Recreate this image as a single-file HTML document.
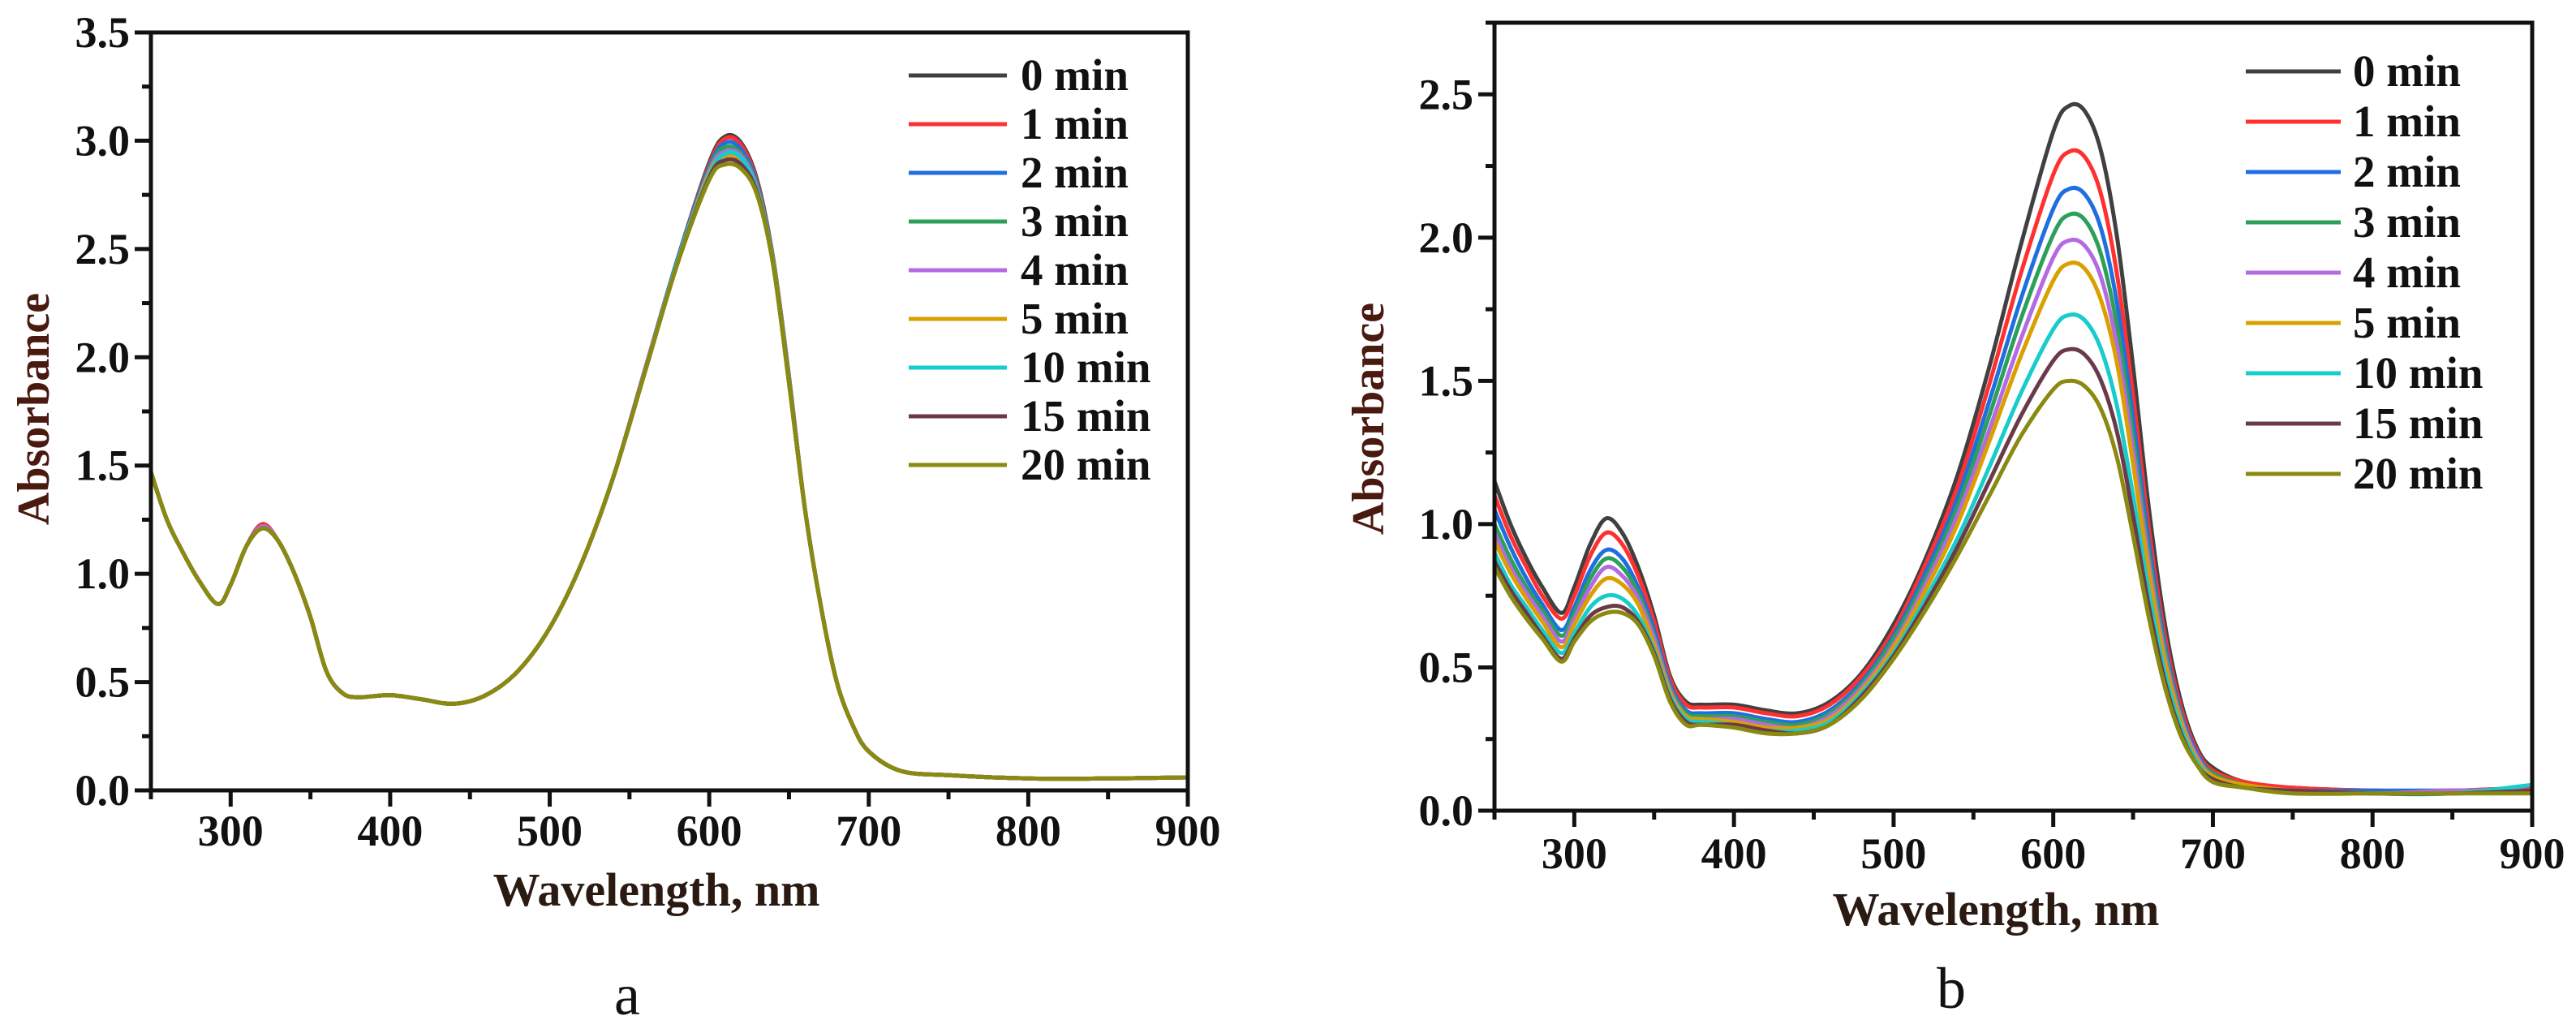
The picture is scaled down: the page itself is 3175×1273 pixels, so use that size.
<!DOCTYPE html>
<html><head><meta charset="utf-8"><style>
html,body{margin:0;padding:0;background:#fff;}
svg{display:block;}
text{font-family:"Liberation Serif",serif;}
</style></head><body>
<svg id="svg" width="3175" height="1273" viewBox="0 0 3175 1273" xmlns="http://www.w3.org/2000/svg"></svg>
<script>
const W = [250,260,270,280,292,300,310,320,330,340,350,360,370,380,400,420,440,460,480,500,520,540,560,580,600,610,620,630,640,650,660,670,680,690,700,720,750,800,850,900];
const seriesLabels = ["0 min","1 min","2 min","3 min","4 min","5 min","10 min","15 min","20 min"];
const seriesColors = ["#404040","#ff3030","#1f6fe0","#2ca05a","#b36ae2","#d9a000","#18cccc","#6b3a4a","#8a8a10"];
const xTicks = [300,400,500,600,700,800,900];
const yTicksA = [0,0.5,1.0,1.5,2.0,2.5,3.0,3.5];
const yTicksB = [0,0.5,1.0,1.5,2.0,2.5];
const A0 = [1.47,1.25,1.1,0.97,0.86,0.95,1.13,1.23,1.15,1.0,0.8,0.55,0.45,0.43,0.44,0.42,0.40,0.44,0.55,0.75,1.05,1.45,1.95,2.45,2.90,3.02,2.99,2.82,2.46,1.91,1.3,0.85,0.5,0.3,0.18,0.09,0.07,0.055,0.055,0.06];
const A1 = [1.47,1.25,1.1,0.97,0.86,0.95,1.13,1.23,1.15,1.0,0.8,0.55,0.45,0.43,0.44,0.42,0.40,0.44,0.55,0.75,1.05,1.45,1.95,2.45,2.89,3.01,2.98,2.81,2.46,1.91,1.3,0.85,0.5,0.3,0.18,0.09,0.07,0.055,0.055,0.06];
const A2 = [1.47,1.25,1.1,0.97,0.86,0.95,1.13,1.22,1.15,1.0,0.8,0.55,0.45,0.43,0.44,0.42,0.40,0.44,0.55,0.75,1.05,1.45,1.95,2.45,2.88,2.99,2.96,2.80,2.45,1.90,1.3,0.85,0.5,0.3,0.18,0.09,0.07,0.055,0.055,0.06];
const A3 = [1.47,1.25,1.1,0.97,0.86,0.95,1.13,1.22,1.15,1.0,0.8,0.55,0.45,0.43,0.44,0.42,0.40,0.44,0.55,0.75,1.05,1.45,1.95,2.44,2.87,2.97,2.94,2.79,2.45,1.90,1.3,0.85,0.5,0.3,0.18,0.09,0.07,0.055,0.055,0.06];
const A4 = [1.47,1.25,1.1,0.97,0.86,0.95,1.13,1.22,1.15,1.0,0.8,0.55,0.45,0.43,0.44,0.42,0.40,0.44,0.55,0.75,1.05,1.45,1.95,2.44,2.86,2.95,2.93,2.78,2.44,1.89,1.3,0.85,0.5,0.3,0.18,0.09,0.07,0.055,0.055,0.06];
const A5 = [1.47,1.25,1.1,0.97,0.86,0.95,1.13,1.21,1.15,1.0,0.8,0.55,0.45,0.43,0.44,0.42,0.40,0.44,0.55,0.75,1.05,1.45,1.94,2.44,2.85,2.93,2.91,2.77,2.44,1.89,1.3,0.85,0.5,0.3,0.18,0.09,0.07,0.055,0.055,0.06];
const A10 = [1.47,1.25,1.1,0.97,0.86,0.95,1.13,1.21,1.15,1.0,0.8,0.55,0.45,0.43,0.44,0.42,0.40,0.44,0.55,0.75,1.05,1.45,1.94,2.44,2.84,2.94,2.92,2.77,2.44,1.89,1.3,0.85,0.5,0.3,0.18,0.09,0.07,0.055,0.055,0.06];
const A15 = [1.47,1.25,1.1,0.97,0.86,0.95,1.13,1.21,1.15,1.0,0.8,0.55,0.45,0.43,0.44,0.42,0.40,0.44,0.55,0.75,1.05,1.45,1.94,2.43,2.83,2.91,2.89,2.76,2.43,1.88,1.3,0.85,0.5,0.3,0.18,0.09,0.07,0.055,0.055,0.06];
const A20 = [1.47,1.25,1.1,0.97,0.86,0.95,1.13,1.21,1.15,1.0,0.8,0.55,0.45,0.43,0.44,0.42,0.40,0.44,0.55,0.75,1.05,1.45,1.94,2.43,2.82,2.89,2.87,2.75,2.43,1.88,1.3,0.85,0.5,0.3,0.18,0.09,0.07,0.055,0.055,0.06];
const B0 = [1.15,1.00,0.88,0.78,0.69,0.78,0.93,1.02,0.97,0.85,0.68,0.47,0.38,0.37,0.37,0.35,0.34,0.38,0.48,0.65,0.88,1.17,1.55,1.98,2.37,2.46,2.44,2.30,2.00,1.55,1.05,0.65,0.38,0.22,0.15,0.10,0.08,0.07,0.07,0.08];
const B1 = [1.10,0.96,0.85,0.75,0.67,0.75,0.89,0.97,0.93,0.82,0.66,0.46,0.37,0.36,0.36,0.34,0.33,0.37,0.47,0.63,0.86,1.13,1.49,1.88,2.22,2.30,2.28,2.15,1.87,1.45,0.98,0.61,0.36,0.21,0.14,0.10,0.08,0.07,0.07,0.08];
const B2 = [1.05,0.92,0.81,0.72,0.63,0.71,0.84,0.91,0.88,0.78,0.63,0.44,0.35,0.34,0.34,0.32,0.31,0.35,0.45,0.61,0.83,1.09,1.43,1.79,2.10,2.17,2.15,2.03,1.77,1.37,0.93,0.58,0.34,0.20,0.13,0.09,0.07,0.07,0.07,0.07];
const B3 = [1.00,0.88,0.78,0.70,0.61,0.69,0.81,0.88,0.85,0.76,0.61,0.43,0.34,0.33,0.33,0.31,0.30,0.34,0.44,0.60,0.81,1.06,1.38,1.72,2.01,2.08,2.06,1.94,1.69,1.31,0.89,0.56,0.33,0.19,0.13,0.09,0.07,0.06,0.07,0.07];
const B4 = [0.97,0.85,0.76,0.68,0.59,0.67,0.78,0.85,0.82,0.74,0.60,0.42,0.33,0.32,0.32,0.30,0.29,0.33,0.43,0.58,0.79,1.03,1.33,1.65,1.93,1.99,1.97,1.86,1.62,1.26,0.86,0.54,0.32,0.19,0.12,0.09,0.07,0.06,0.07,0.07];
const B5 = [0.94,0.83,0.74,0.66,0.57,0.65,0.75,0.81,0.79,0.72,0.58,0.41,0.33,0.32,0.31,0.29,0.29,0.32,0.42,0.57,0.77,1.00,1.29,1.59,1.85,1.91,1.89,1.78,1.56,1.21,0.83,0.52,0.31,0.18,0.12,0.09,0.07,0.06,0.06,0.07];
const B10 = [0.90,0.79,0.71,0.63,0.55,0.62,0.71,0.75,0.74,0.68,0.56,0.40,0.32,0.31,0.30,0.28,0.28,0.31,0.41,0.55,0.74,0.95,1.20,1.46,1.68,1.73,1.71,1.61,1.41,1.10,0.76,0.48,0.29,0.17,0.11,0.08,0.07,0.06,0.06,0.09];
const B15 = [0.87,0.77,0.69,0.61,0.53,0.60,0.68,0.71,0.71,0.66,0.55,0.39,0.31,0.30,0.30,0.28,0.27,0.30,0.40,0.54,0.72,0.92,1.15,1.38,1.57,1.61,1.59,1.50,1.32,1.03,0.71,0.45,0.27,0.16,0.11,0.08,0.07,0.06,0.06,0.07];
const B20 = [0.85,0.75,0.67,0.60,0.52,0.59,0.66,0.69,0.69,0.65,0.54,0.38,0.30,0.30,0.29,0.27,0.27,0.30,0.39,0.53,0.70,0.89,1.10,1.31,1.47,1.50,1.48,1.40,1.23,0.96,0.67,0.43,0.26,0.16,0.10,0.08,0.06,0.06,0.06,0.06];

const NS="http://www.w3.org/2000/svg";
const svg=document.getElementById('svg');
function mk(tag,attrs,parent){const e=document.createElementNS(NS,tag);for(const k in attrs)e.setAttribute(k,attrs[k]);(parent||svg).appendChild(e);return e;}
function smooth(pts){let d=`M${pts[0][0]},${pts[0][1]}`;for(let i=0;i<pts.length-1;i++){const p0=pts[Math.max(0,i-1)],p1=pts[i],p2=pts[i+1],p3=pts[Math.min(pts.length-1,i+2)];const c1x=p1[0]+(p2[0]-p0[0])/6,c1y=p1[1]+(p2[1]-p0[1])/6,c2x=p2[0]-(p3[0]-p1[0])/6,c2y=p2[1]-(p3[1]-p1[1])/6;d+=` C${c1x.toFixed(1)},${c1y.toFixed(1)} ${c2x.toFixed(1)},${c2y.toFixed(1)} ${p2[0].toFixed(1)},${p2[1].toFixed(1)}`;}return d;}

function panel(cfg){
  const g=mk('g',{});
  
  
  const L=cfg.L,R=cfg.R,T=cfg.T,B=cfg.B;
  const xs=v=>L+(v-250)/(900-250)*(R-L);
  const ys=v=>B-v/cfg.ymax*(B-T);
  const sg=mk('g',{},g);
  
  
  cfg.data.forEach((arr,i)=>{
    const pts=W.map((w,j)=>[xs(w),ys(arr[j])]);
    const p=mk('path',{d:smooth(pts),fill:'none',stroke:seriesColors[i],'stroke-width':5,'stroke-linejoin':'round'},sg);
    
    
  });
  const fr=mk('rect',{x:L,y:T,width:R-L,height:B-T,fill:'none',stroke:'#111','stroke-width':5},g);
  
  
  for(let v=250;v<=900;v+=50){const major=v%100===0;mk('line',{x1:xs(v),x2:xs(v),y1:B,y2:B+(major?20:11),stroke:'#111','stroke-width':5},g);}
  xTicks.forEach(v=>{const t=mk('text',{x:xs(v),y:cfg.xlabY,'font-size':54,'font-weight':'bold','text-anchor':'middle',fill:'#111'},g);t.textContent=v;});
  for(let v=0;v<=cfg.ymax+1e-6;v+=0.25){const major=Math.abs(v*2-Math.round(v*2))<1e-6;mk('line',{x1:L,x2:L-(major?20:11),y1:ys(v),y2:ys(v),stroke:'#111','stroke-width':5},g);}
  cfg.yTicks.forEach(v=>{const t=mk('text',{x:L-26,y:ys(v)+18,'font-size':54,'font-weight':'bold','text-anchor':'end',fill:'#111'},g);t.textContent=v.toFixed(1);});
  const xt=mk('text',{x:cfg.xtX,y:cfg.xtY,'font-size':58,'font-weight':'bold','text-anchor':'middle',fill:'#2a1a12'},g);xt.textContent='Wavelength, nm';
  
  const yt=mk('text',{x:0,y:0,'font-size':56,'font-weight':'bold','text-anchor':'middle',fill:'#4a1a10',transform:`translate(${cfg.ytX},${cfg.ytY}) rotate(-90)`},g);yt.textContent='Absorbance';
  
  const lg=mk('g',{},g);
  seriesLabels.forEach((s,i)=>{
    const y=cfg.legY+i*cfg.legDy;
    const e=mk('g',{},lg);
    mk('line',{x1:cfg.legX1,x2:cfg.legX2,y1:y,y2:y,stroke:seriesColors[i],'stroke-width':5},e);
    const t=mk('text',{x:cfg.legTX,y:y+18,'font-size':55,'font-weight':'bold',fill:'#111'},e);t.textContent=s;
  });
  const pl=mk('text',{x:cfg.plX,y:cfg.plY,'font-size':72,'text-anchor':'middle',fill:'#111'},g);pl.textContent=cfg.letter;
  
}
panel({name:'panel-a',L:186,R:1464,T:40,B:974,ymax:3.5,yTicks:yTicksA,data:[A0,A1,A2,A3,A4,A5,A10,A15,A20],xlabY:1042,xtX:809,xtY:1116,ytX:60,ytY:504,legX1:1120,legX2:1241,legTX:1258,legY:93,legDy:60,plX:773,plY:1250,letter:'a'});
panel({name:'panel-b',L:1842,R:3121,T:28,B:999,ymax:2.75,yTicks:yTicksB,data:[B0,B1,B2,B3,B4,B5,B10,B15,B20],xlabY:1070,xtX:2460,xtY:1140,ytX:1705,ytY:516,legX1:2768,legX2:2885,legTX:2900,legY:88,legDy:62,plX:2405,plY:1242,letter:'b'});
</script>
</body></html>
